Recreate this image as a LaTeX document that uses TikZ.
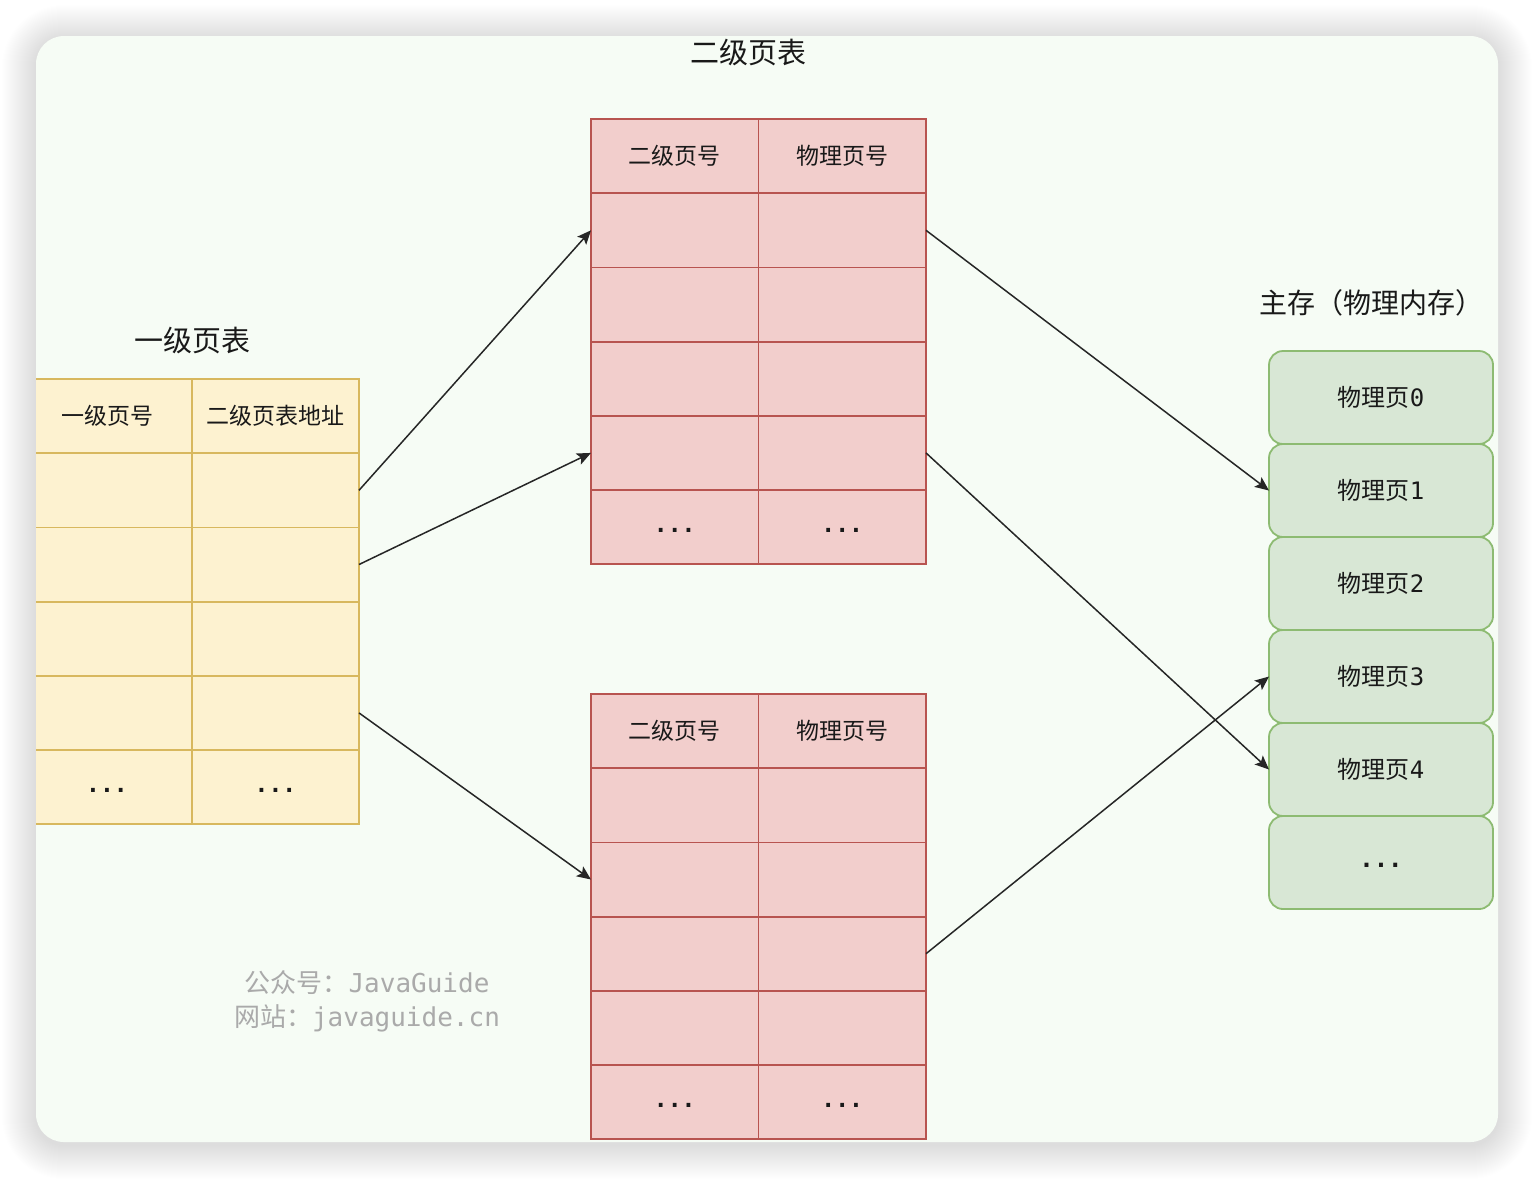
\documentclass[tikz,border=0pt]{standalone}
\usepackage{fontspec}
\setmainfont{Noto Sans CJK SC}
\newfontfamily\monof{DejaVu Sans Mono}
\usetikzlibrary{positioning,arrows.meta}
\definecolor{cardbg}{HTML}{F6FCF5}
\definecolor{yfill}{HTML}{FDF2D0}
\definecolor{yline}{HTML}{D8B85E}
\definecolor{rfill}{HTML}{F2CECC}
\definecolor{rline}{HTML}{B85450}
\definecolor{gfill}{HTML}{D8E7D5}
\definecolor{gline}{HTML}{8DBB72}
\definecolor{wmark}{HTML}{AAAAAA}
\newcommand{\ellip}{\raisebox{-5pt}{\monof\bfseries ...}}

\begin{document}
\begin{tikzpicture}[x=0.5pt,y=-0.5pt,node distance=0pt]
  \tikzstyle{cell}=[draw,line width=0.9pt,outer sep=0pt,inner sep=0pt,minimum height=37.1pt,font=\fontsize{11.5}{14}\selectfont,text=black!90]
  \tikzstyle{ycell}=[cell,draw=yline,fill=yfill]
  \tikzstyle{rcell}=[cell,draw=rline,fill=rfill,minimum width=83.75pt]
  \tikzstyle{page}=[cell,draw=gline,fill=gfill,rounded corners=7pt,minimum width=112pt,minimum height=46.5pt,font=\fontsize{12}{14}\selectfont]
  \tikzstyle{ttl}=[font=\fontsize{14.5}{17}\selectfont,text=black!90]
  \tikzstyle{link}=[-{Stealth[length=7pt,width=6pt,inset=1.5pt]},line width=0.75pt,black!85]
  \useasboundingbox (0,0) rectangle (1534,1180);
  % card with soft shadow
  \foreach \k in {1,...,34}
    \fill[black,opacity=0.0048,rounded corners={(14+\k/2)*1pt}] (36-\k,36-\k+3) rectangle (1498+\k,1142+\k+3);
  \fill[cardbg,rounded corners=14pt] (36,36) rectangle (1498,1142);

  % first level table, its left side hidden behind the card edge
  \begin{scope}
    \clip (36,36) rectangle (1498,1142);
    \node[ycell,minimum width=85pt,anchor=north west] (l1no-0) at (22,379) {一级页号};
    \node[ycell,minimum width=83.5pt,right=of l1no-0] (l1addr-0) {二级页表地址};
    \foreach \i [count=\j from 0] in {1,...,4} {
      \node[ycell,minimum width=85pt,below=of l1no-\j] (l1no-\i) {};
      \node[ycell,minimum width=83.5pt,below=of l1addr-\j] (l1addr-\i) {};
    }
    \node[ycell,minimum width=85pt,below=of l1no-4] (l1no-5) {\ellip};
    \node[ycell,minimum width=83.5pt,below=of l1addr-4] (l1addr-5) {\ellip};
  \end{scope}
  \node[ttl,above=9pt of l1no-0.north east] (ttl1) {一级页表};

  % second level tables
  \foreach \t/\y in {a/119,b/694} {
    \node[rcell,anchor=north west] (l2\t no-0) at (591,\y) {二级页号};
    \node[rcell,right=of l2\t no-0] (l2\t pn-0) {物理页号};
    \foreach \i [count=\j from 0] in {1,...,4} {
      \node[rcell,below=of l2\t no-\j] (l2\t no-\i) {};
      \node[rcell,below=of l2\t pn-\j] (l2\t pn-\i) {};
    }
    \node[rcell,below=of l2\t no-4] (l2\t no-5) {\ellip};
    \node[rcell,below=of l2\t pn-4] (l2\t pn-5) {\ellip};
  }
  \node[ttl] (ttl2) at (748,53) {二级页表};

  % main memory
  \node[page,anchor=north west] (mem0) at (1269,351) {物理页{\monof 0}};
  \foreach \i [count=\j from 0] in {1,...,4}
    \node[page,below=of mem\j] (mem\i) {物理页{\monof \i}};
  \node[page,below=of mem4] (mem5) {\ellip};
  \node[ttl,font=\fontsize{14}{17}\selectfont] (ttl3) at (1371,303) {主存（物理内存）};

  % links
  \draw[link] (l1addr-1.east) -- (l2ano-1.west);
  \draw[link] (l1addr-2.east) -- (l2ano-4.west);
  \draw[link] (l1addr-4.east) -- (l2bno-2.west);
  \draw[link] (l2apn-1.east) -- (mem1.west);
  \draw[link] (l2apn-4.east) -- (mem4.west);
  \draw[link] (l2bpn-3.east) -- (mem3.west);

  % watermark
  \node[align=center,font=\fontsize{13}{17}\selectfont,text=wmark] (wm) at (367,1001)
    {公众号：{\monof JavaGuide}\\网站：{\monof javaguide.cn}};
\end{tikzpicture}
\end{document}
